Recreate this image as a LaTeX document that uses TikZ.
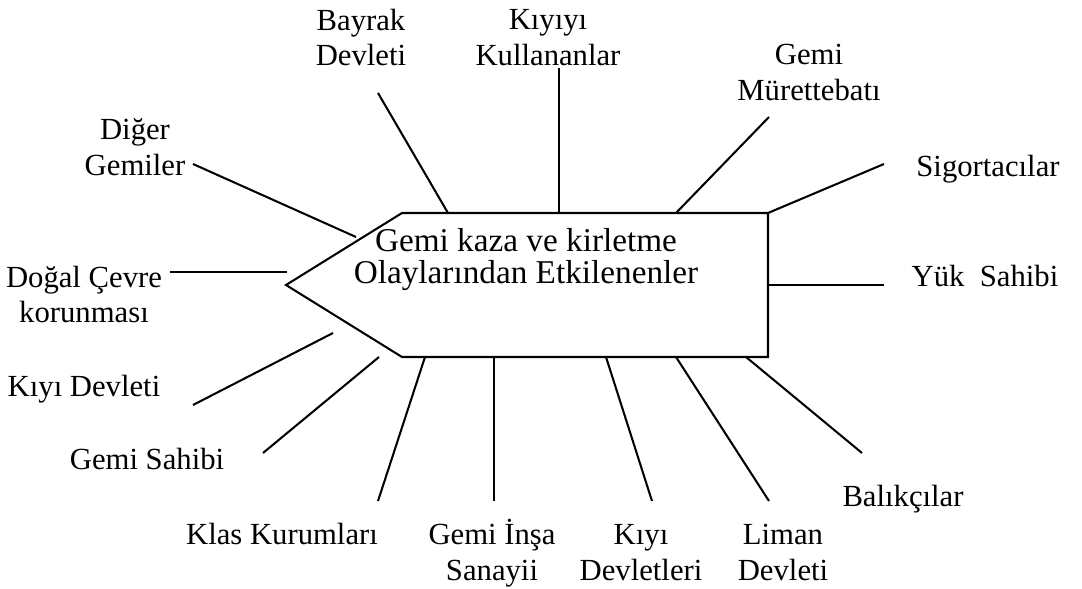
\documentclass[tikz,border=0pt]{standalone}
\usepackage{fontspec}
\setmainfont{Liberation Serif}
\tikzset{lbl/.style={font=\fontsize{12}{14}\selectfont, align=center, inner sep=0pt},
  mid/.style={font=\fontsize{13}{12.5}\selectfont, align=center, inner sep=0pt}}
\begin{document}
\begin{tikzpicture}[x=0.391pt, y=-0.391pt, line width=0.8pt]
\useasboundingbox (0,0) rectangle (1082,589);
\draw (286,285) -- (402,213) -- (768,213) -- (768,357) -- (402,357) -- cycle;
\node[mid] (etki) at (526,259.5) {Gemi kaza ve kirletme\\Olaylarından Etkilenenler};
\node[lbl] (bayrak) at (361,37.5) {Bayrak\\Devleti};
\node[lbl] (kiyiyi) at (548,38) {Kıyıyı\\Kullananlar};
\node[lbl] (murettebat) at (809,72.5) {Gemi\\Mürettebatı};
\node[lbl, anchor=base] (sigorta) at (988,177) {Sigortacılar};
\node[lbl, anchor=base] (yuk) at (985,287) {Yük~~Sahibi};
\node[lbl] (diger) at (135,147.5) {Diğer\\Gemiler};
\node[lbl] (dogal) at (84,294.5) {Doğal Çevre\\korunması};
\node[lbl, anchor=base] (kiyidev) at (84,397) {Kıyı Devleti};
\node[lbl, anchor=base] (sahibi) at (147,470) {Gemi Sahibi};
\node[lbl, anchor=base] (klas) at (282,545) {Klas Kurumları};
\node[lbl] (insa) at (492,553.4) {Gemi İnşa\\Sanayii};
\node[lbl] (kiyidevler) at (641,553) {Kıyı\\Devletleri};
\node[lbl] (liman) at (783,552.5) {Liman\\Devleti};
\node[lbl, anchor=base] (balikci) at (903,507) {Balıkçılar};
\foreach \n/\xa/\ya/\xb/\yb in {bayrak/378/93/448/213, kiyiyi/559/68/559/213, murettebat/769/117/676/213,
  sigorta/884/164/768/213, yuk/884/285/768/285, diger/193/164/356/237, dogal/170/272/287/272,
  kiyidev/193/405/333/333, sahibi/263/453/379/357, klas/378/501/425/357, insa/494/501/494/357,
  kiyidevler/652/501/606/357, liman/769/501/676/357, balikci/862/453/746/357}
  {\coordinate (\n-out) at (\xa,\ya); \coordinate (\n-in) at (\xb,\yb); \draw (\n-out) -- (\n-in);}
\end{tikzpicture}
\end{document}
